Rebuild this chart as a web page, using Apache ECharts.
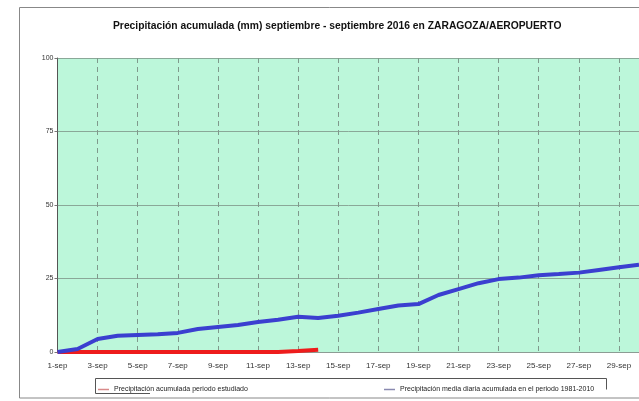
<!DOCTYPE html>
<html>
<head>
<meta charset="utf-8">
<script src="https://cdn.jsdelivr.net/npm/echarts@6/dist/echarts.min.js"></script>
<style>
html, body { margin: 0; padding: 0; background: #fff; }
#chart { width: 639px; height: 401px; }
</style>
</head>
<body>
<div id="chart"></div>
<script>
var dias = [];
for (var d = 1; d <= 30; d++) { dias.push(d + '-sep'); }

// precipitacion acumulada 2016 (mm), hasta el 14-sep
var acumulada2016 = [0, 0, 0, 0, 0, 0, 0, 0, 0, 0, 0, 0, 0.3, 0.8];
// media diaria acumulada 1981-2010 (mm)
var media8110 = [0, 1, 4.4, 5.5, 5.8, 6, 6.5, 7.8, 8.5, 9.2, 10.2, 11, 12, 11.6, 12.3,
    13.4, 14.6, 15.8, 16.3, 19.4, 21.4, 23.4, 24.8, 25.3, 26.1, 26.5, 27, 27.9, 28.8, 29.7];
var ticksY = [0, 25, 50, 75, 100];

var nombreRojo = 'Precipitación acumulada periodo estudiado';
var nombreAzul = 'Precipitación media diaria acumulada en el periodo 1981-2010';

var myChart = echarts.init(document.getElementById('chart'));
var option = {
    animation: false,
    backgroundColor: '#fff',
    title: {
        text: 'Precipitación acumulada (mm) septiembre - septiembre 2016 en ZARAGOZA/AEROPUERTO',
        left: 113,
        top: 21,
        padding: 0,
        textStyle: {
            fontFamily: 'Liberation Sans, Arial, sans-serif',
            fontSize: 10.3,
            fontWeight: 'bold',
            color: '#111'
        }
    },
    legend: [{
        data: [{name: nombreRojo, itemStyle: {color: '#d88a8a'}}],
        left: 93, top: 381,
        icon: 'rect', itemWidth: 11, itemHeight: 1.5, itemGap: 4,
        textStyle: {fontFamily: 'Liberation Sans, Arial, sans-serif', fontSize: 7, color: '#222'}
    }, {
        data: [{name: nombreAzul, itemStyle: {color: '#8a8ab0'}}],
        left: 379, top: 381,
        icon: 'rect', itemWidth: 11, itemHeight: 1.5, itemGap: 4,
        textStyle: {fontFamily: 'Liberation Sans, Arial, sans-serif', fontSize: 7, color: '#222'}
    }],
    grid: {
        left: 57.5,
        right: -5.5,
        top: 58,
        bottom: 49,
        show: true,
        backgroundColor: '#bcf7da',
        borderWidth: 0
    },
    xAxis: {
        type: 'category',
        boundaryGap: false,
        data: dias,
        axisLine: {show: true, lineStyle: {color: '#8c9c94', width: 1}},
        axisTick: {show: false},
        axisLabel: {
            interval: 1,
            margin: 10,
            fontFamily: 'Liberation Sans, Arial, sans-serif',
            fontSize: 8,
            color: '#333'
        },
        splitLine: {
            show: true,
            interval: function (i) { return i > 0 && i % 2 === 0; },
            lineStyle: {color: '#7f9a8c', type: [5, 4], width: 1}
        }
    },
    yAxis: {
        type: 'value',
        min: 0,
        max: 100,
        interval: 25,
        axisLine: {show: true, lineStyle: {color: '#555', width: 1}},
        axisTick: {show: true, length: 3, lineStyle: {color: '#777'}},
        axisLabel: {
            margin: 4,
            fontFamily: 'Liberation Sans, Arial, sans-serif',
            fontSize: 7,
            color: '#333',
            formatter: function (v) { return ticksY.indexOf(v) >= 0 ? String(v) : ''; }
        },
        splitLine: {show: true, lineStyle: {color: '#8aa898', width: 1}}
    },
    graphic: [
        {type: 'rect', shape: {x: 19.5, y: 7.5, width: 700, height: 390.5}, silent: true,
            style: {fill: 'none', stroke: '#888', lineWidth: 1}},
        {type: 'line', shape: {x1: 57.5, y1: 58.5, x2: 700, y2: 58.5}, silent: true,
            style: {stroke: '#888', lineWidth: 1}},
        {type: 'polyline', shape: {points: [[150, 393.5], [95.5, 393.5], [95.5, 378.5], [606.5, 378.5], [606.5, 389.5]]},
            silent: true, style: {fill: 'none', stroke: '#555', lineWidth: 1}}
    ],
    series: [
        {
            name: nombreRojo,
            type: 'line',
            data: acumulada2016,
            showSymbol: false,
            symbol: 'none',
            z: 3,
            lineStyle: {color: '#ee1c1c', width: 4},
            itemStyle: {color: '#ee1c1c'}
        },
        {
            name: nombreAzul,
            type: 'line',
            data: media8110,
            showSymbol: false,
            symbol: 'none',
            z: 4,
            lineStyle: {color: '#3b3fd0', width: 4},
            itemStyle: {color: '#3b3fd0'}
        }
    ]
};
myChart.setOption(option);
</script>
</body>
</html>
